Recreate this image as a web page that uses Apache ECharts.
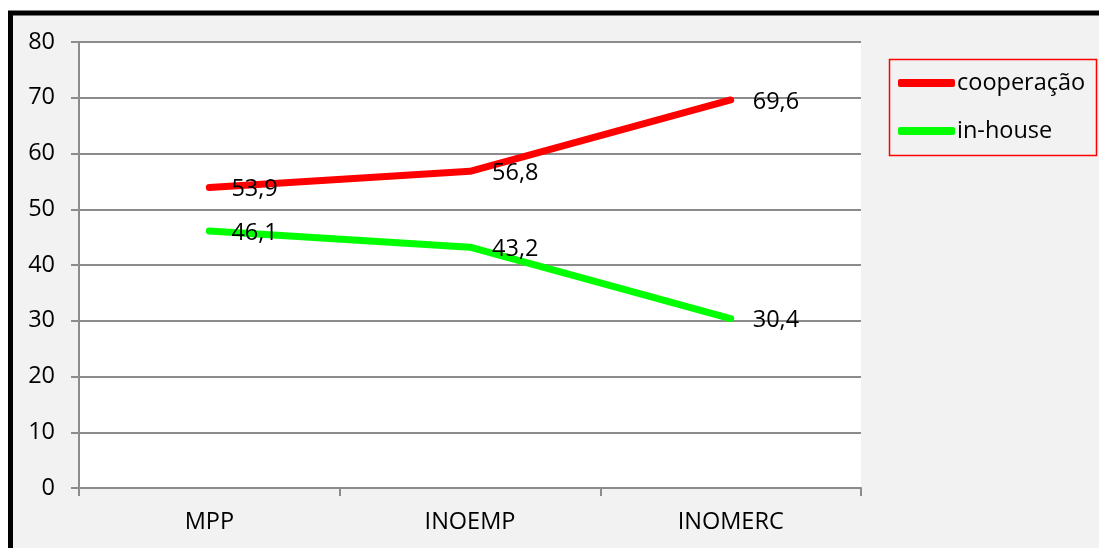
<!DOCTYPE html>
<html>
<head>
<meta charset="utf-8">
<script src="https://cdn.jsdelivr.net/npm/echarts@6/dist/echarts.min.js"></script>
<style>
  html, body { margin: 0; padding: 0; background: #ffffff; }
  #chart { width: 1099px; height: 548px; }
</style>
</head>
<body>
<div id="chart"></div>
<script>
// Categories and values
var categories = ['MPP', 'INOEMP', 'INOMERC'];
var cooperacao = [53.9, 56.8, 69.6];
var inHouse = [46.1, 43.2, 30.4];
var seriesNames = ['cooperação', 'in-house'];

var FONT = '"Open Sans", "Liberation Sans", sans-serif';
var FONT_SIZE = 23.5;
var GRID_GRAY = '#8c8c8c';

function commaDecimal(p) {
  return String(p.value).replace('.', ',');
}

function lineSeries(name, values, color) {
  return {
    name: name,
    type: 'line',
    data: values,
    color: color,
    showSymbol: true,
    symbol: 'circle',
    symbolSize: 0.1,
    itemStyle: { color: color },
    lineStyle: { color: color, width: 7, cap: 'round', join: 'round' },
    label: {
      show: true, position: 'right', distance: 22,
      fontFamily: FONT, fontSize: FONT_SIZE, color: '#000000',
      offset: [0, 2],
      formatter: commaDecimal
    },
    z: 3
  };
}

var chart = echarts.init(document.getElementById('chart'), null, { renderer: 'canvas' });

chart.setOption({
  animation: false,
  backgroundColor: '#ffffff',
  textStyle: { fontFamily: FONT },
  graphic: [
    // outer frame with thick black border
    {
      type: 'rect', z: -10, silent: true,
      shape: { x: 10.5, y: 13, width: 1200, height: 700 },
      style: { fill: '#f2f2f2', stroke: '#000000', lineWidth: 5 }
    },
    // legend box
    {
      type: 'rect', z: 5, silent: true,
      shape: { x: 889.5, y: 59.5, width: 207, height: 96 },
      style: { fill: 'transparent', stroke: '#ff0000', lineWidth: 1.5 }
    }
  ],
  grid: {
    left: 79, right: 238, top: 42, bottom: 60,
    show: true, backgroundColor: '#ffffff', borderWidth: 0,
    containLabel: false
  },
  legend: {
    orient: 'vertical',
    left: 898, top: 70,
    padding: 0,
    itemGap: 22,
    itemWidth: 57,
    itemHeight: 8,
    icon: 'roundRect',
    data: seriesNames,
    textStyle: { fontFamily: FONT, fontSize: FONT_SIZE, color: '#000000', lineHeight: 26, padding: [0, 0, 0, -3] }
  },
  xAxis: {
    type: 'category',
    data: categories,
    boundaryGap: true,
    axisLine: { show: true, lineStyle: { color: GRID_GRAY, width: 2 } },
    axisTick: { show: true, length: 8, alignWithLabel: false, lineStyle: { color: GRID_GRAY, width: 2 } },
    axisLabel: { fontFamily: FONT, fontSize: FONT_SIZE, color: '#000000', margin: 22 },
    splitLine: { show: false }
  },
  yAxis: {
    type: 'value',
    min: 0, max: 80, interval: 10,
    axisLine: { show: true, lineStyle: { color: GRID_GRAY, width: 2 } },
    axisTick: { show: true, length: 8, lineStyle: { color: GRID_GRAY, width: 2 } },
    axisLabel: { fontFamily: FONT, fontSize: FONT_SIZE, color: '#000000', margin: 24 },
    splitLine: { show: true, lineStyle: { color: GRID_GRAY, width: 2 } }
  },
  series: [
    lineSeries(seriesNames[0], cooperacao, '#ff0000'),
    lineSeries(seriesNames[1], inHouse, '#00ff00')
  ]
});
</script>
</body>
</html>
